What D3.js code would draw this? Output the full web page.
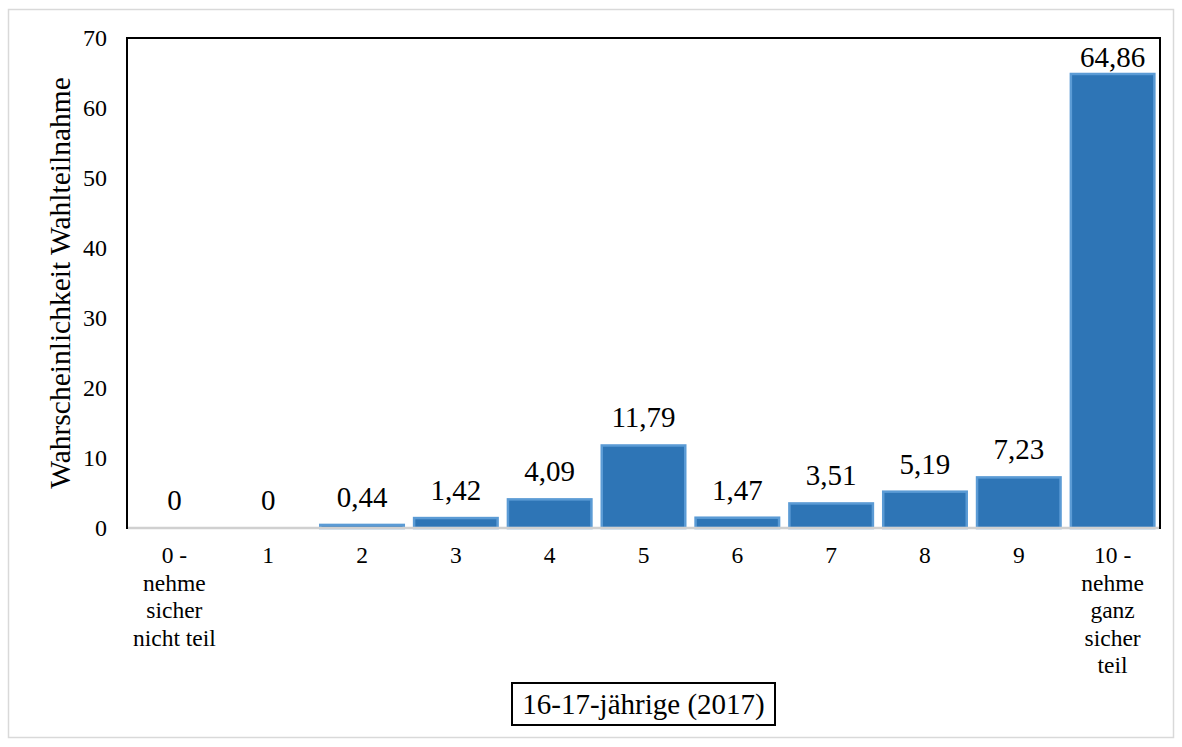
<!DOCTYPE html>
<html>
<head>
<meta charset="utf-8">
<script src="https://cdn.jsdelivr.net/npm/d3@7"></script>
<style>
  html, body { margin: 0; padding: 0; background: #fff; }
  svg { display: block; }
  text { font-family: "Liberation Serif", "Times New Roman", Times, "DejaVu Serif", serif; fill: #000; }
</style>
</head>
<body>
<svg id="chart" width="1182" height="747"></svg>
<script>
// Response categories (0–10 scale) with multi-line labels
const categories = ["0", "1", "2", "3", "4", "5", "6", "7", "8", "9", "10"];
const categoryLabels = [
  ["0 -", "nehme", "sicher", "nicht teil"],
  ["1"], ["2"], ["3"], ["4"], ["5"], ["6"], ["7"], ["8"], ["9"],
  ["10 -", "nehme", "ganz", "sicher", "teil"]
];
// Share of respondents per category (percent)
const values = [0, 0, 0.44, 1.42, 4.09, 11.79, 1.47, 3.51, 5.19, 7.23, 64.86];
const valueLabels = ["0", "0", "0,44", "1,42", "4,09", "11,79", "1,47", "3,51", "5,19", "7,23", "64,86"];
const yTicks = [0, 10, 20, 30, 40, 50, 60, 70];
const yTitle = "Wahrscheinlichkeit Wahlteilnahme";
const xTitle = "16-17-jährige (2017)";

const FONT = '"Liberation Serif", "Times New Roman", Times, "DejaVu Serif", serif';
const svg = d3.select("#chart");
const W = 1182, H = 747;
const plot = { left: 127, right: 1160, top: 38, bottom: 528 };

// outer chart border
svg.append("rect")
  .attr("x", 8.5).attr("y", 9.5)
  .attr("width", W - 17).attr("height", H - 19)
  .attr("fill", "#fff").attr("stroke", "#d9d9d9").attr("stroke-width", 1.5);

const x = d3.scaleBand().domain(categories)
  .range([plot.left, plot.right]).paddingInner(0.11).paddingOuter(0.06);
const y = d3.scaleLinear().domain([0, 70]).range([plot.bottom, plot.top]);

// y axis tick labels
const yAxis = d3.axisLeft(y).tickValues(yTicks).tickSize(0).tickPadding(20);
const gy = svg.append("g").attr("transform", `translate(${plot.left},0)`).call(yAxis);
gy.select(".domain").remove();
gy.attr("font-family", null).attr("font-size", null);
gy.selectAll("text")
  .style("font-family", FONT)
  .style("font-size", "24px").attr("fill", "#000");

// bars
svg.append("g").selectAll("rect").data(values).join("rect")
  .attr("x", (d, i) => x(categories[i]))
  .attr("y", d => y(d))
  .attr("width", x.bandwidth())
  .attr("height", d => y(0) - y(d))
  .attr("fill", "#2e75b6")
  .attr("stroke", "#5b9bd5").attr("stroke-width", 2.5);

// plot area frame
svg.append("rect")
  .attr("x", plot.left).attr("y", plot.top)
  .attr("width", plot.right - plot.left).attr("height", plot.bottom - plot.top)
  .attr("fill", "none").attr("stroke", "#000").attr("stroke-width", 2);

// category axis line over the frame bottom
svg.append("line")
  .attr("x1", plot.left + 1).attr("x2", plot.right - 1)
  .attr("y1", y(0)).attr("y2", y(0))
  .attr("stroke", "#d0d0d0").attr("stroke-width", 2.5);

// value labels (kept inside the plot area near the top)
svg.append("g").selectAll("text").data(values).join("text")
  .attr("x", (d, i) => x(categories[i]) + x.bandwidth() / 2)
  .attr("y", d => Math.max(y(d) - 18, plot.top + 29))
  .attr("text-anchor", "middle")
  .style("font-family", FONT)
  .style("font-size", "29px")
  .text((d, i) => valueLabels[i]);

// category labels
const xl = svg.append("g").selectAll("text").data(categoryLabels).join("text")
  .attr("x", (d, i) => x(categories[i]) + x.bandwidth() / 2)
  .attr("y", 563)
  .attr("text-anchor", "middle")
  .style("font-family", FONT)
  .style("font-size", "23.5px");
xl.selectAll("tspan").data(d => d).join("tspan")
  .attr("x", function () { return d3.select(this.parentNode).attr("x"); })
  .attr("dy", (d, j) => j === 0 ? 0 : 27.5)
  .text(d => d);

// y axis title
svg.append("text")
  .attr("transform", `translate(70,${(plot.top + plot.bottom) / 2}) rotate(-90)`)
  .attr("text-anchor", "middle")
  .style("font-family", FONT)
  .style("font-size", "29.5px")
  .text(yTitle);

// x axis title in a box
const cx = (plot.left + plot.right) / 2;
svg.append("rect")
  .attr("x", cx - 131.5).attr("y", 683)
  .attr("width", 263).attr("height", 42)
  .attr("fill", "#fff").attr("stroke", "#000").attr("stroke-width", 2);
svg.append("text")
  .attr("x", cx).attr("y", 714)
  .attr("text-anchor", "middle")
  .style("font-family", FONT)
  .style("font-size", "29px")
  .text(xTitle);
</script>
</body>
</html>
